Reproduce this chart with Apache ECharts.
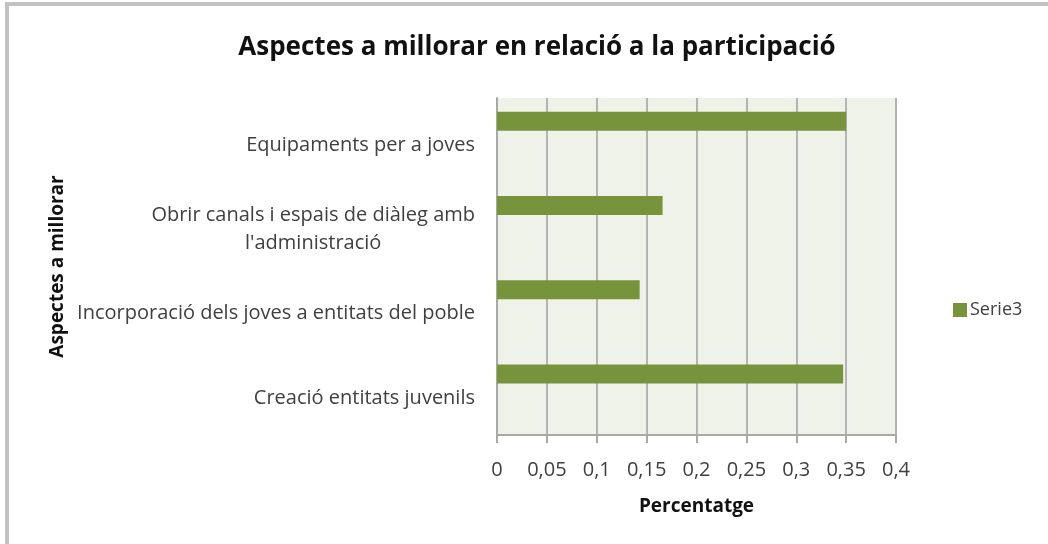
<!DOCTYPE html>
<html>
<head>
<meta charset="utf-8">
<script src="https://cdn.jsdelivr.net/npm/echarts@6/dist/echarts.min.js"></script>
<style>
  html, body { margin: 0; padding: 0; background: #fff; }
  #frame {
    position: absolute; left: 5px; top: 2px; width: 1100px; height: 600px;
    border-top: 4px solid #c2c2c2; border-left: 4px solid #c2c2c2;
  }
  #chart { position: absolute; left: 0; top: 0; width: 1048px; height: 544px; }
</style>
</head>
<body>
<div id="frame"></div>
<div id="chart"></div>
<script>
// categories, bottom to top as Excel draws them
const categories = [
  'Creació entitats juvenils',
  'Incorporació dels joves a entitats del poble',
  "Obrir canals i espais de diàleg amb\nl'administració",
  'Equipaments per a joves'
]
const serie3 = [0.347, 0.143, 0.166, 0.35]
const xTicks = { min: 0, max: 0.4, interval: 0.05 }

const fontFamily = '"Open Sans", sans-serif'
const textColor = '#404040'

const chart = echarts.init(document.getElementById('chart'))

chart.setOption({
  animation: false,
  title: {
    text: 'Aspectes a millorar en relació a la participació',
    left: 532,
    top: 30,
    textAlign: 'center',
    textStyle: { fontFamily, fontSize: 26, fontWeight: 'bold', color: '#111' }
  },
  legend: {
    data: ['Serie3'],
    left: 953,
    top: 301,
    padding: 0,
    itemWidth: 14,
    itemHeight: 14,
    itemGap: 5,
    icon: 'rect',
    textStyle: { fontFamily, fontSize: 18, color: textColor, padding: [0, 0, 0, -2] }
  },
  grid: {
    left: 497,
    right: 152,
    top: 98,
    bottom: 109,
    show: true,
    backgroundColor: '#eff2e9',
    borderWidth: 0
  },
  xAxis: {
    type: 'value',
    min: xTicks.min,
    max: xTicks.max,
    interval: xTicks.interval,
    name: 'Percentatge',
    nameLocation: 'middle',
    nameGap: 62,
    nameTextStyle: { fontFamily, fontSize: 19, fontWeight: 'bold', color: '#111' },
    axisLine: { show: true, lineStyle: { color: '#a8a8a8', width: 2 } },
    axisTick: { show: true, length: 8, lineStyle: { color: '#a8a8a8', width: 2 } },
    axisLabel: {
      margin: 25,
      fontFamily, fontSize: 20, color: textColor,
      formatter: v => String(+v.toFixed(2)).replace('.', ',')
    },
    splitLine: { show: true, lineStyle: { color: '#b4b4b4', width: 2 } }
  },
  yAxis: {
    type: 'category',
    data: categories,
    name: 'Aspectes a millorar',
    nameLocation: 'middle',
    nameGap: 430,
    nameRotate: 90,
    nameTextStyle: { fontFamily, fontSize: 19, fontWeight: 'bold', color: '#111' },
    axisLine: { show: true, lineStyle: { color: '#a8a8a8', width: 2 } },
    axisTick: { show: false },
    splitLine: { show: false },
    axisLabel: {
      margin: 22,
      padding: [10, 0, 0, 0],
      color: textColor,
      formatter: v => v.split('\n').map(s => '{c|' + s + '}').join('\n'),
      rich: {
        c: { align: 'center', fontFamily, fontSize: 20, color: textColor, lineHeight: 28 }
      }
    }
  },
  series: [
    {
      name: 'Serie3',
      type: 'bar',
      data: serie3,
      barWidth: 19,
      barGap: '0%',
      itemStyle: { color: '#77933c' }
    },
    // empty series keep Excel's slot layout (Serie3 sits at the top of each band)
    { name: 'Serie2', type: 'bar', data: [], barWidth: 19 },
    { name: 'Serie1', type: 'bar', data: [], barWidth: 19 }
  ]
})
</script>
</body>
</html>
